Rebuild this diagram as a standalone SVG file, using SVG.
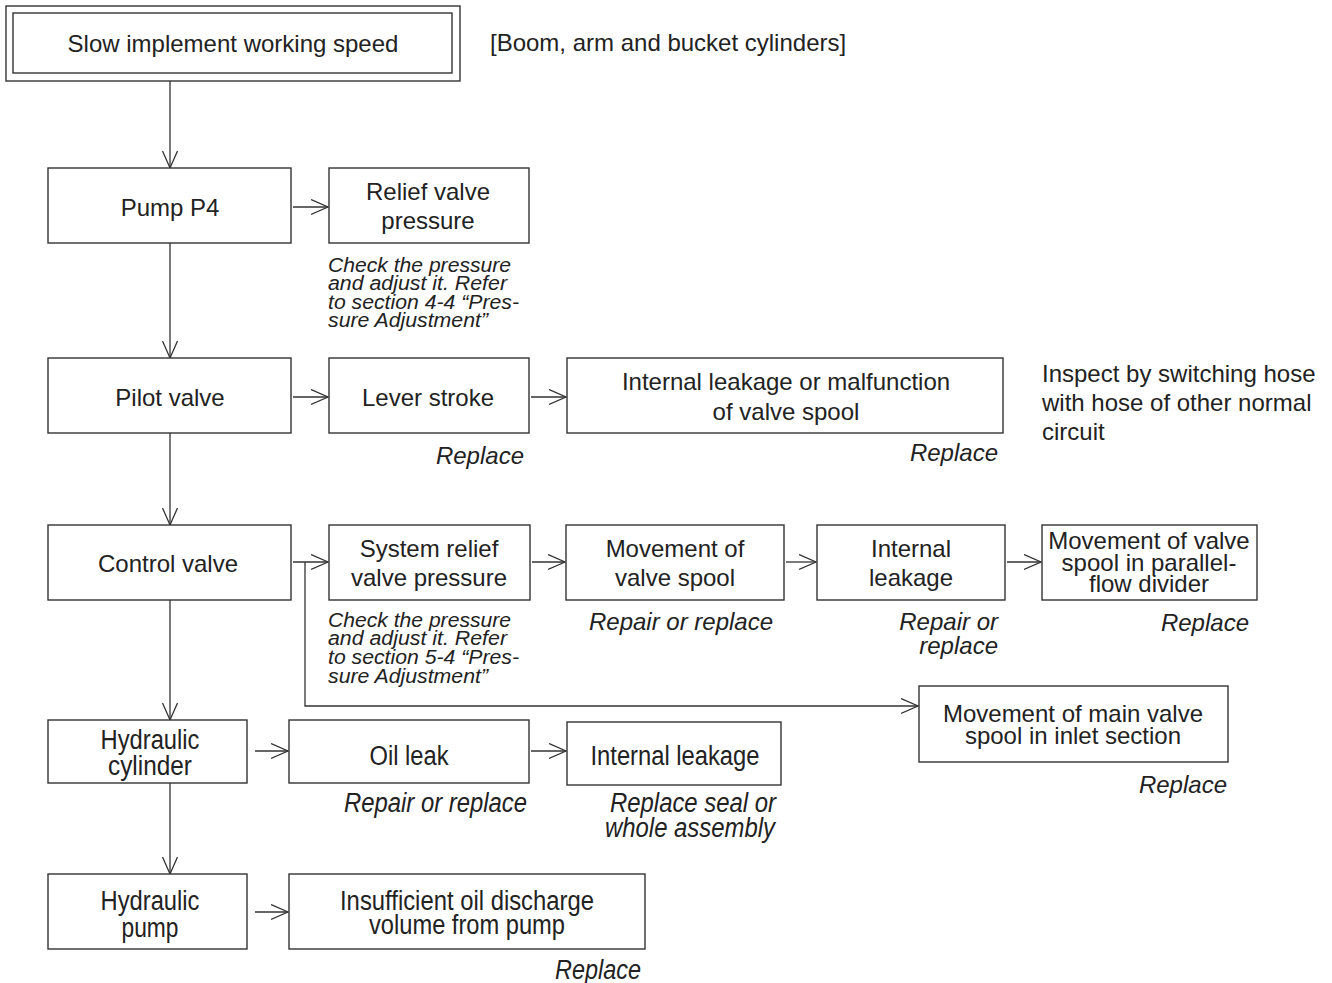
<svg xmlns="http://www.w3.org/2000/svg" width="1332" height="983" viewBox="0 0 1332 983">
  <defs>
    <marker id="arrow" markerUnits="userSpaceOnUse" markerWidth="20" markerHeight="18" refX="17" refY="8" orient="auto">
      <path d="M0,0.5 L17,8 L0,15.5" fill="none" stroke="#333" stroke-width="1.3"/>
    </marker>
    <style>
      .box { fill: #fff; stroke: #333; stroke-width: 1.4; }
      .wire { fill: none; stroke: #333; stroke-width: 1.3; }
      .arr { marker-end: url(#arrow); }
      text { font-family: "Liberation Sans", Arial, sans-serif; fill: #222; }
      .t { font-size: 24px; text-anchor: middle; }
      .lbl { font-size: 24px; }
      .it { font-size: 24px; font-style: italic; }
      .note { font-size: 20px; font-style: italic; }
      .cond { font-size: 27px; text-anchor: middle; }
      .condit { font-size: 27px; font-style: italic; }
    </style>
  </defs>

  <!-- connectors -->
  <g id="connectors">
    <line class="wire arr" x1="170" y1="81" x2="170" y2="168"/>
    <line class="wire arr" x1="170" y1="243" x2="170" y2="358"/>
    <line class="wire arr" x1="170" y1="433" x2="170" y2="525"/>
    <line class="wire arr" x1="170" y1="600" x2="170" y2="720"/>
    <line class="wire arr" x1="170" y1="783" x2="170" y2="874"/>

    <line class="wire arr" x1="293" y1="207" x2="328" y2="207"/>
    <line class="wire arr" x1="293" y1="397" x2="328" y2="397"/>
    <line class="wire arr" x1="531" y1="397" x2="566" y2="397"/>

    <line class="wire arr" x1="293" y1="562" x2="328" y2="562"/>
    <path class="wire arr" d="M305,562 V706 H918"/>
    <line class="wire arr" x1="532" y1="562" x2="565" y2="562"/>
    <line class="wire arr" x1="786" y1="562" x2="816" y2="562"/>
    <line class="wire arr" x1="1007" y1="562" x2="1041" y2="562"/>

    <line class="wire arr" x1="255" y1="751" x2="288" y2="751"/>
    <line class="wire arr" x1="531" y1="751" x2="566" y2="751"/>
    <line class="wire arr" x1="255" y1="912" x2="288" y2="912"/>
  </g>

  <!-- top symptom -->
  <g id="symptom">
    <rect class="box" x="6" y="6" width="454" height="75"/>
    <rect class="box" x="13" y="13" width="439" height="60"/>
    <text class="t" x="233" y="52">Slow implement working speed</text>
  </g>
  <text class="lbl" x="490" y="51">[Boom, arm and bucket cylinders]</text>

  <!-- pump P4 row -->
  <g id="pump-p4">
    <rect class="box" x="48" y="168" width="243" height="75"/>
    <text class="t" x="170" y="216">Pump P4</text>
  </g>
  <g id="relief-valve">
    <rect class="box" x="329" y="168" width="200" height="75"/>
    <text class="t" x="428" y="200">Relief valve</text>
    <text class="t" x="428" y="229">pressure</text>
    <text class="note" x="328" y="272" textLength="183" lengthAdjust="spacingAndGlyphs">Check the pressure</text>
    <text class="note" x="328" y="290" textLength="179" lengthAdjust="spacingAndGlyphs">and adjust it. Refer</text>
    <text class="note" x="328" y="309" textLength="191" lengthAdjust="spacingAndGlyphs">to section 4-4 “Pres-</text>
    <text class="note" x="328" y="327" textLength="160" lengthAdjust="spacingAndGlyphs">sure Adjustment”</text>
  </g>

  <!-- pilot valve row -->
  <g id="pilot-valve">
    <rect class="box" x="48" y="358" width="243" height="75"/>
    <text class="t" x="170" y="406">Pilot valve</text>
  </g>
  <g id="lever-stroke">
    <rect class="box" x="329" y="358" width="200" height="75"/>
    <text class="t" x="428" y="406">Lever stroke</text>
    <text class="it" x="524" y="464" text-anchor="end">Replace</text>
  </g>
  <g id="pilot-spool">
    <rect class="box" x="567" y="358" width="436" height="75"/>
    <text class="t" x="786" y="390">Internal leakage or malfunction</text>
    <text class="t" x="786" y="420">of valve spool</text>
    <text class="it" x="998" y="461" text-anchor="end">Replace</text>
  </g>
  <g id="inspect-note">
    <text class="lbl" x="1042" y="382">Inspect by switching hose</text>
    <text class="lbl" x="1042" y="411">with hose of other normal</text>
    <text class="lbl" x="1042" y="440">circuit</text>
  </g>

  <!-- control valve row -->
  <g id="control-valve">
    <rect class="box" x="48" y="525" width="243" height="75"/>
    <text class="t" x="168" y="572">Control valve</text>
  </g>
  <g id="system-relief">
    <rect class="box" x="329" y="525" width="201" height="75"/>
    <text class="t" x="429" y="557">System relief</text>
    <text class="t" x="429" y="586">valve pressure</text>
    <text class="note" x="328" y="627" textLength="183" lengthAdjust="spacingAndGlyphs">Check the pressure</text>
    <text class="note" x="328" y="645" textLength="179" lengthAdjust="spacingAndGlyphs">and adjust it. Refer</text>
    <text class="note" x="328" y="664" textLength="191" lengthAdjust="spacingAndGlyphs">to section 5-4 “Pres-</text>
    <text class="note" x="328" y="683" textLength="160" lengthAdjust="spacingAndGlyphs">sure Adjustment”</text>
  </g>
  <g id="valve-spool">
    <rect class="box" x="566" y="525" width="218" height="75"/>
    <text class="t" x="675" y="557">Movement of</text>
    <text class="t" x="675" y="586">valve spool</text>
    <text class="it" x="681" y="630" text-anchor="middle">Repair or replace</text>
  </g>
  <g id="cv-internal-leakage">
    <rect class="box" x="817" y="525" width="188" height="75"/>
    <text class="t" x="911" y="557">Internal</text>
    <text class="t" x="911" y="586">leakage</text>
    <text class="it" x="998" y="630" text-anchor="end">Repair or</text>
    <text class="it" x="998" y="654" text-anchor="end">replace</text>
  </g>
  <g id="flow-divider">
    <rect class="box" x="1042" y="525" width="215" height="75"/>
    <text class="t" x="1149" y="549">Movement of valve</text>
    <text class="t" x="1149" y="571">spool in parallel-</text>
    <text class="t" x="1149" y="592">flow divider</text>
    <text class="it" x="1249" y="631" text-anchor="end">Replace</text>
  </g>
  <g id="inlet-spool">
    <rect class="box" x="919" y="686" width="309" height="76"/>
    <text class="t" x="1073" y="722">Movement of main valve</text>
    <text class="t" x="1073" y="744">spool in inlet section</text>
    <text class="it" x="1227" y="793" text-anchor="end">Replace</text>
  </g>

  <!-- hydraulic cylinder row -->
  <g id="hydraulic-cylinder">
    <rect class="box" x="48" y="720" width="199" height="63"/>
    <text class="cond" x="150" y="749" textLength="99" lengthAdjust="spacingAndGlyphs">Hydraulic</text>
    <text class="cond" x="150" y="775" textLength="84" lengthAdjust="spacingAndGlyphs">cylinder</text>
  </g>
  <g id="oil-leak">
    <rect class="box" x="289" y="720" width="240" height="63"/>
    <text class="cond" x="409" y="765" textLength="79" lengthAdjust="spacingAndGlyphs">Oil leak</text>
    <text class="condit" x="344" y="812" textLength="183" lengthAdjust="spacingAndGlyphs">Repair or replace</text>
  </g>
  <g id="cyl-internal-leakage">
    <rect class="box" x="567" y="722" width="214" height="63"/>
    <text class="cond" x="675" y="765" textLength="169" lengthAdjust="spacingAndGlyphs">Internal leakage</text>
    <text class="condit" x="610" y="812" textLength="166" lengthAdjust="spacingAndGlyphs">Replace seal or</text>
    <text class="condit" x="605" y="837" textLength="170" lengthAdjust="spacingAndGlyphs">whole assembly</text>
  </g>

  <!-- hydraulic pump row -->
  <g id="hydraulic-pump">
    <rect class="box" x="48" y="874" width="199" height="75"/>
    <text class="cond" x="150" y="910" textLength="99" lengthAdjust="spacingAndGlyphs">Hydraulic</text>
    <text class="cond" x="150" y="937" textLength="57" lengthAdjust="spacingAndGlyphs">pump</text>
  </g>
  <g id="discharge-volume">
    <rect class="box" x="289" y="874" width="356" height="75"/>
    <text class="cond" x="467" y="910" textLength="254" lengthAdjust="spacingAndGlyphs">Insufficient oil discharge</text>
    <text class="cond" x="467" y="934" textLength="196" lengthAdjust="spacingAndGlyphs">volume from pump</text>
    <text class="condit" x="555" y="979" textLength="86" lengthAdjust="spacingAndGlyphs">Replace</text>
  </g>
</svg>
